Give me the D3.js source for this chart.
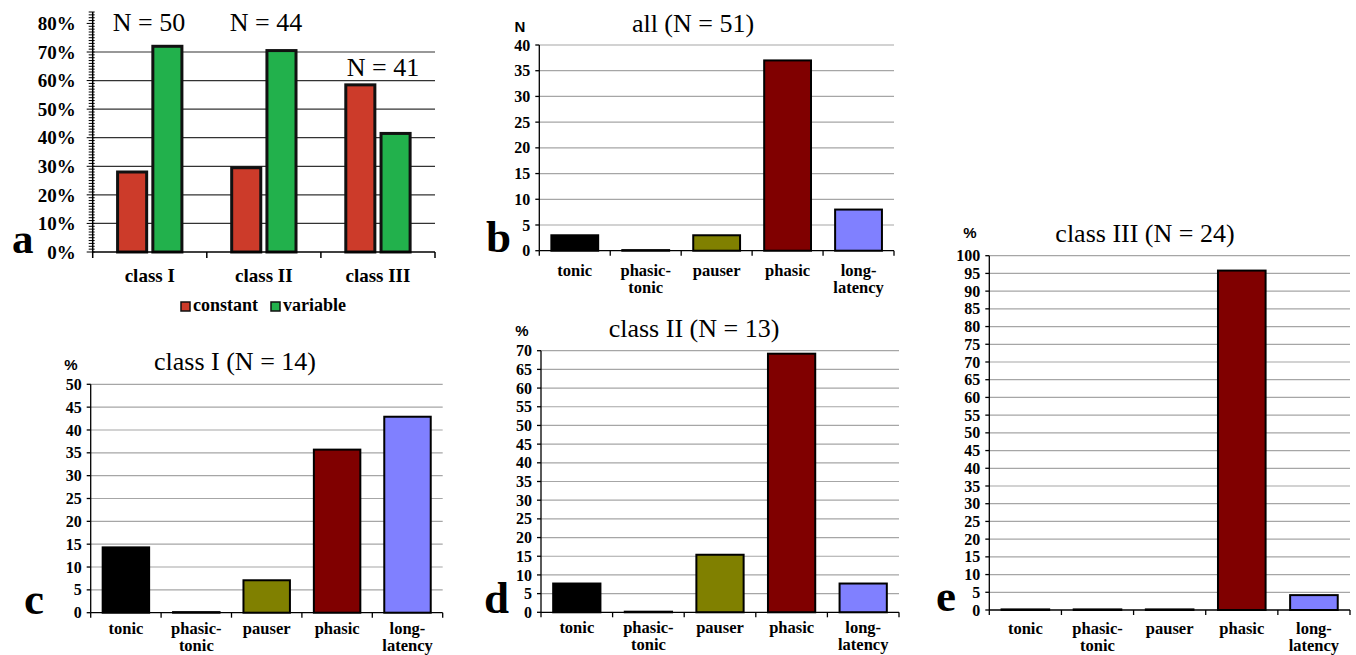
<!DOCTYPE html>
<html>
<head>
<meta charset="utf-8">
<script src="https://cdn.jsdelivr.net/npm/d3@7"></script>
<style>
  body { margin: 0; background: #fff; }
  svg { display: block; }
  text { fill: #000; }
  .bold { font-family: 'Liberation Serif', 'Times New Roman', serif; font-weight: bold; }
  .serif { font-family: 'Liberation Serif', 'Times New Roman', serif; }
  .sans { font-family: 'Liberation Sans', Arial, sans-serif; font-weight: bold; }
</style>
</head>
<body>
<div id="chart"></div>
<script>
// panel a: constant vs variable responses per class
const classes = ["class I", "class II", "class III"];
const classN = ["N = 50", "N = 44", "N = 41"];
const responseSeries = ["constant", "variable"];
const constantPct = [28, 29.5, 58.5];
const variablePct = [72, 70.5, 41.5];
const pctTicksA = [0, 10, 20, 30, 40, 50, 60, 70, 80];

// panels b-e: response types
const types = ["tonic", "phasic-tonic", "pauser", "phasic", "long-latency"];
const typeLabels = [["tonic"], ["phasic-", "tonic"], ["pauser"], ["phasic"], ["long-", "latency"]];
const typeColors = ["#000000", "#000000", "#808000", "#800000", "#8080ff"];
const allCounts = [3, 0, 3, 37, 8];
const class1Pct = [14.3, 0, 7.1, 35.7, 42.9];
const class2Pct = [7.7, 0, 15.4, 69.2, 7.7];
const class3Pct = [0, 0, 0, 95.8, 4.2];

const svg = d3.select("#chart").append("svg")
    .attr("width", 1356)
    .attr("height", 655)
    .attr("viewBox", "0 0 1356 655");

function boldText(sel, size) {
    return sel.attr("class", "bold").style("font-size", size + "px");
}

// ---------- panel a ----------
function drawPanelA() {
    const left = 92.7, right = 435, bottom = 252, top = 12;
    const y = d3.scaleLinear().domain([0, 84]).range([bottom, top]);
    const x = d3.scaleBand().domain(classes).range([left, right])
        .paddingInner(0.41).paddingOuter(0.205);
    const xs = d3.scaleBand().domain(responseSeries).range([0, x.bandwidth()]).paddingInner(0.09);
    const color = d3.scaleOrdinal().domain(responseSeries).range(["#cc3b2a", "#22b14c"]);

    const g = svg.append("g").attr("class", "panelA");

    // grid lines (no line at the top label)
    g.append("g").selectAll("line")
        .data(pctTicksA.filter(d => d > 0 && d < 80))
        .enter().append("line")
        .attr("x1", left).attr("x2", right)
        .attr("y1", d => y(d)).attr("y2", d => y(d))
        .attr("stroke", "#333").attr("stroke-width", 1.2);

    // bars
    const rows = classes.map((c, i) => ({ cls: c, values: [constantPct[i], variablePct[i]] }));
    const groups = g.append("g").selectAll("g")
        .data(rows).enter().append("g")
        .attr("transform", d => "translate(" + x(d.cls) + ",0)");
    groups.selectAll("rect")
        .data(d => d.values.map((v, j) => ({ key: responseSeries[j], value: v })))
        .enter().append("rect")
        .attr("x", d => xs(d.key) + 1.5)
        .attr("width", xs.bandwidth() - 3)
        .attr("y", d => y(d.value))
        .attr("height", d => bottom - y(d.value))
        .attr("fill", d => color(d.key))
        .attr("stroke", "#111").attr("stroke-width", 3);

    // y axis with 1% minor ticks
    const yAxis = g.append("g").attr("transform", "translate(" + left + ",0)");
    yAxis.append("line").attr("y1", top).attr("y2", bottom).attr("stroke", "#000").attr("stroke-width", 1.5);
    yAxis.selectAll(".minor").data(d3.range(0, 85, 1)).enter().append("line")
        .attr("x1", d => d % 10 === 0 ? -6 : -4).attr("x2", 2)
        .attr("y1", d => y(d)).attr("y2", d => y(d))
        .attr("stroke", "#000").attr("stroke-width", 1);
    boldText(yAxis.selectAll("text").data(pctTicksA).enter().append("text"), 19)
        .attr("x", -17).attr("y", d => y(d)).attr("dy", "0.35em")
        .attr("text-anchor", "end")
        .text(d => d + "%");

    // x axis
    const xAxis = g.append("g");
    xAxis.append("line").attr("x1", left).attr("x2", right)
        .attr("y1", bottom).attr("y2", bottom).attr("stroke", "#000").attr("stroke-width", 1.5);
    const step = x.step();
    xAxis.selectAll(".tk").data(d3.range(classes.length + 1)).enter().append("line")
        .attr("x1", i => left + i * step).attr("x2", i => left + i * step)
        .attr("y1", bottom).attr("y2", bottom + 6).attr("stroke", "#000").attr("stroke-width", 1.5);
    boldText(xAxis.selectAll("text").data(classes).enter().append("text"), 19)
        .attr("x", d => x(d) + x.bandwidth() / 2).attr("y", bottom + 30)
        .attr("text-anchor", "middle")
        .text(d => d);

    // N labels above each class
    const nPos = [{ x: 149, y: 31 }, { x: 266, y: 31 }, { x: 383, y: 76 }];
    g.selectAll(".nlab").data(classN).enter().append("text")
        .attr("class", "serif")
        .attr("x", (d, i) => nPos[i].x).attr("y", (d, i) => nPos[i].y)
        .attr("text-anchor", "middle")
        .style("font-size", "26px")
        .text(d => d);

    // legend
    const legend = g.append("g");
    const lx = [181, 271];
    responseSeries.forEach((s, i) => {
        legend.append("rect").attr("x", lx[i]).attr("y", 302).attr("width", 9).attr("height", 9)
            .attr("fill", color(s)).attr("stroke", "#111").attr("stroke-width", 1.5);
        boldText(legend.append("text"), 18).attr("x", lx[i] + 12).attr("y", 311)
            .text(s);
    });

    boldText(g.append("text"), 43)
        .attr("x", 12).attr("y", 253)
        .text("a");
}

// ---------- panels b-e ----------
function drawTypePanel(opt) {
    const y = d3.scaleLinear().domain([0, opt.max]).range([opt.bottom, opt.top]);
    const x = d3.scaleBand().domain(types).range([opt.left, opt.right])
        .paddingInner(0.34).paddingOuter(0.17);
    const g = svg.append("g");

    const ticks = d3.range(0, opt.max + 0.001, 5);

    g.append("g").selectAll("line")
        .data(ticks.filter(d => d > 0)).enter().append("line")
        .attr("x1", opt.left).attr("x2", opt.right)
        .attr("y1", d => y(d)).attr("y2", d => y(d))
        .attr("stroke", "#a6a6a6").attr("stroke-width", 1.2);

    // zero-valued bars still show as a flat outline
    g.append("g").selectAll("rect")
        .data(opt.values.map((v, i) => ({ key: types[i], value: v, color: typeColors[i] })))
        .enter().append("rect")
        .attr("x", d => x(d.key))
        .attr("width", x.bandwidth())
        .attr("y", d => Math.min(y(d.value), opt.bottom - 0.6))
        .attr("height", d => Math.max(opt.bottom - y(d.value), 0.6))
        .attr("fill", d => d.color)
        .attr("stroke", "#000").attr("stroke-width", 2);

    // y axis
    const yAxis = g.append("g").attr("transform", "translate(" + opt.left + ",0)");
    yAxis.append("line").attr("y1", opt.top).attr("y2", opt.bottom).attr("stroke", "#000").attr("stroke-width", 1.3);
    yAxis.selectAll(".tk").data(ticks).enter().append("line")
        .attr("x1", -4).attr("x2", 0).attr("y1", d => y(d)).attr("y2", d => y(d))
        .attr("stroke", "#000").attr("stroke-width", 1.3);
    boldText(yAxis.selectAll("text").data(ticks).enter().append("text"), 16)
        .attr("x", -9).attr("y", d => y(d)).attr("dy", "0.35em")
        .attr("text-anchor", "end")
        .text(d => d);

    // x axis
    const xAxis = g.append("g");
    xAxis.append("line").attr("x1", opt.left).attr("x2", opt.right)
        .attr("y1", opt.bottom).attr("y2", opt.bottom).attr("stroke", "#000").attr("stroke-width", 1.3);
    const step = x.step();
    xAxis.selectAll(".tk").data(d3.range(types.length + 1)).enter().append("line")
        .attr("x1", i => opt.left + i * step).attr("x2", i => opt.left + i * step)
        .attr("y1", opt.bottom).attr("y2", opt.bottom + 5)
        .attr("stroke", "#000").attr("stroke-width", 1.3);
    boldText(xAxis.selectAll("text").data(types).enter().append("text"), 16.5)
        .attr("text-anchor", "middle")
        .each(function (d, i) {
            const t = d3.select(this);
            typeLabels[i].forEach((line, k) => {
                t.append("tspan")
                    .attr("x", x(d) + x.bandwidth() / 2)
                    .attr("y", opt.bottom + opt.labelDy + k * 17)
                    .text(line);
            });
        });

    // title, unit and panel letter
    g.append("text").attr("class", "serif")
        .attr("x", opt.titleX).attr("y", opt.titleY)
        .attr("text-anchor", "middle")
        .style("font-size", "26px")
        .text(opt.title);
    g.append("text").attr("class", "sans")
        .attr("x", opt.unitX).attr("y", opt.unitY)
        .attr("text-anchor", "middle")
        .style("font-size", "15px")
        .text(opt.unit);
    boldText(g.append("text"), 45)
        .attr("x", opt.letterX).attr("y", opt.bottom + 1)
        .text(opt.letter);
}

drawPanelA();

drawTypePanel({
    values: allCounts, max: 40, left: 539.3, right: 894, bottom: 250.7, top: 45,
    title: "all (N = 51)", titleX: 693, titleY: 32, unit: "N", unitX: 520, unitY: 32,
    letter: "b", letterX: 486, labelDy: 25
});
drawTypePanel({
    values: class1Pct, max: 50, left: 90.7, right: 442.7, bottom: 612.7, top: 384.3,
    title: "class I (N = 14)", titleX: 235, titleY: 370, unit: "%", unitX: 71, unitY: 370,
    letter: "c", letterX: 24, labelDy: 21
});
drawTypePanel({
    values: class2Pct, max: 70, left: 541, right: 899, bottom: 612.3, top: 350.7,
    title: "class II (N = 13)", titleX: 694, titleY: 337, unit: "%", unitX: 522, unitY: 336,
    letter: "d", letterX: 484, labelDy: 21
});
drawTypePanel({
    values: class3Pct, max: 100, left: 989.3, right: 1350, bottom: 610, top: 255.7,
    title: "class III (N = 24)", titleX: 1145, titleY: 242, unit: "%", unitX: 970, unitY: 238,
    letter: "e", letterX: 936, labelDy: 24
});
</script>
</body>
</html>
